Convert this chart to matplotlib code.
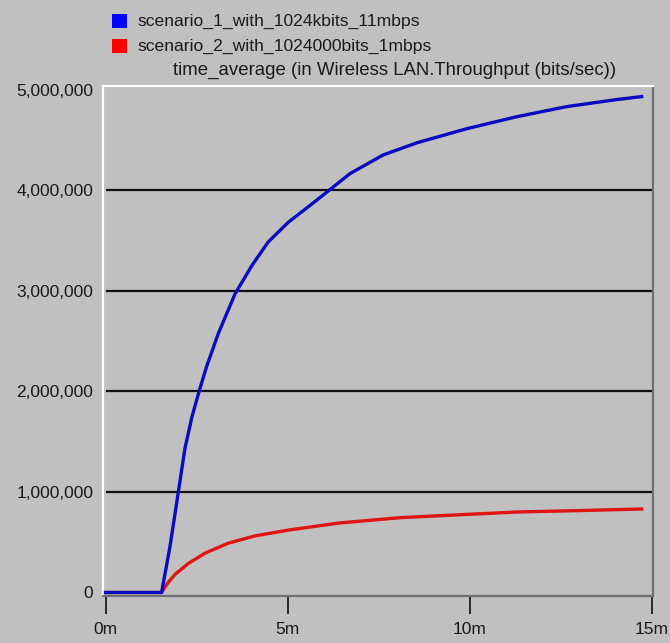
import numpy as np
import matplotlib.pyplot as plt
from matplotlib.patches import Rectangle
from matplotlib.ticker import FuncFormatter

BG = '#c0c0c0'

# scenario 1 (blue), time in minutes, throughput in bits/sec
s1_min = [0, 1.54, 1.77, 2.00, 2.18, 2.37, 2.57, 2.78, 3.10, 3.56, 4.02, 4.47,
          5.02, 5.66, 6.72, 7.63, 8.55, 9.92, 11.3, 12.67, 14.04, 14.73]
s1_bps = [0, 0, 0.457e6, 1.00e6, 1.43e6, 1.74e6, 2.00e6, 2.25e6, 2.576e6,
          2.97e6, 3.25e6, 3.485e6, 3.68e6, 3.86e6, 4.165e6, 4.35e6,
          4.47e6, 4.61e6, 4.73e6, 4.83e6, 4.90e6, 4.93e6]

# scenario 2 (red)
s2_min = [0, 1.54, 1.70, 1.91, 2.28, 2.73, 3.37, 4.11, 5.02, 6.40, 8.14, 9.0,
          11.3, 13.1, 14.73]
s2_bps = [0, 0, 0.09e6, 0.18e6, 0.29e6, 0.39e6, 0.49e6, 0.563e6, 0.62e6,
          0.69e6, 0.745e6, 0.76e6, 0.80e6, 0.815e6, 0.83e6]

y_ticks = [0, 1e6, 2e6, 3e6, 4e6, 5e6]
x_ticks = [0, 5, 10, 15]
x_labels = ['0m', '5m', '10m', '15m']

legend_names = ['scenario_1_with_1024kbits_11mbps', 'scenario_2_with_1024000bits_1mbps']
legend_colors = ['#0000ff', '#ff0000']
title = 'time_average (in Wireless LAN.Throughput (bits/sec))'

plt.rcParams['font.family'] = ['Liberation Sans', 'DejaVu Sans']

fig = plt.figure(figsize=(6.7, 6.43), dpi=100, facecolor=BG)
ax = fig.add_axes([103 / 670, 1 - 596 / 643, 550 / 670, 510 / 643])
ax.set_facecolor(BG)

# horizontal grid lines at the y ticks (not at zero)
ax.hlines(y_ticks[1:-1], 0, 15.1, colors='#101010', linewidth=1.6, zorder=1)

ax.plot(s2_min, s2_bps, color='#e01414', linewidth=2.4, zorder=3)
ax.plot(s1_min, s1_bps, color='#0a0ac0', linewidth=2.4, zorder=4)

ax.set_xlim(-0.07, 15.04)
ax.set_ylim(-0.035e6, 5.035e6)

ax.set_yticks(y_ticks)
ax.yaxis.set_major_formatter(FuncFormatter(lambda v, p: f'{int(round(v)):,}'))
ax.tick_params(axis='y', length=0, pad=7, labelsize=12.5, labelcolor='#1a1a1a')

ax.set_xticks(x_ticks)
ax.set_xticklabels(x_labels)
ax.tick_params(axis='x', direction='out', length=13, width=1.2, color='#101010',
               pad=6, labelsize=12.5, labelcolor='#1a1a1a')

# sunken 3d-looking frame
for side in ['left', 'top']:
    ax.spines[side].set_color('white')
    ax.spines[side].set_linewidth(1.6)
for side in ['right', 'bottom']:
    ax.spines[side].set_color('#707070')
    ax.spines[side].set_linewidth(1.6)

# legend block at top
for i in range(len(legend_names)):
    yc = 1 - (21 + 25 * i) / 643
    fig.patches.append(Rectangle((112 / 670, yc - 7 / 643), 15 / 670, 14 / 643,
                                 transform=fig.transFigure, facecolor=legend_colors[i],
                                 edgecolor='none'))
    fig.text(138 / 670, yc, legend_names[i], ha='left', va='center',
             fontsize=12.6, color='#1a1a1a')
fig.text(173 / 670, 1 - 70 / 643, title, ha='left', va='center',
         fontsize=13.4, color='#1a1a1a')

fig.savefig('out.png', dpi=100, facecolor=BG)
